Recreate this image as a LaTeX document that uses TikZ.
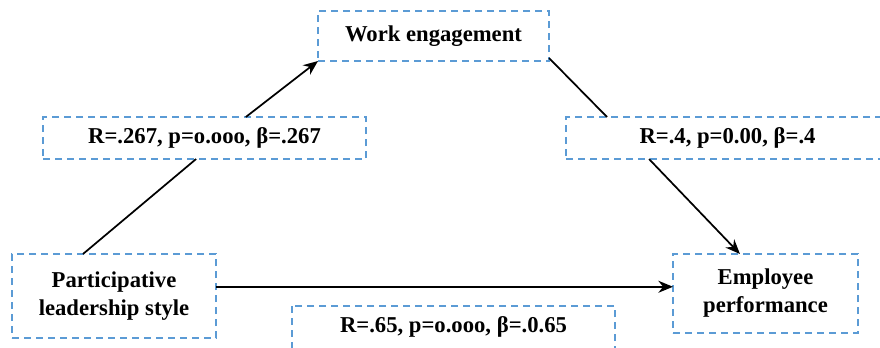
\documentclass[tikz,border=0pt]{standalone}
\usepackage{fontspec}
\setmainfont{Liberation Serif}
\usetikzlibrary{calc,arrows.meta}
\definecolor{boxblue}{RGB}{91,155,213}
\tikzset{
  dline/.style={draw=boxblue, line width=1.2pt, dash pattern=on 5.5pt off 3.5pt},
  dbox/.style={dline,
    inner sep=0pt, outer sep=0pt, align=center,
    font=\fontsize{17}{21}\selectfont\bfseries},
  conn/.style={line width=1.3pt, black},
  arr/.style={conn, -{Stealth[length=11pt,width=9pt]}}
}
\begin{document}
\begin{tikzpicture}[x=0.75pt,y=-0.75pt]
\useasboundingbox (0,0) rectangle (880,347);
\clip (0,0) rectangle (880,347);
\node[dbox, minimum width=173.25pt, minimum height=37.5pt] (WE) at (433.5,36) {Work engagement};
\node[dbox, minimum width=242.25pt, minimum height=31.5pt] (L1) at (204.5,138) {R=.267, p=o.ooo, β=.267};
\node[dbox, minimum width=242.25pt, minimum height=31.5pt] (L2) at (727.5,138) {R=.4, p=0.00, β=.4};
\node[dbox, draw=none, minimum width=242.25pt, minimum height=31.5pt] (L3) at (453.5,327) {R=.65, p=o.ooo, β=.0.65};
\draw[dline] (L3.north west) rectangle ($(L3.south east)+(0,12)$);
\node[dbox, minimum width=153pt, minimum height=63pt] (P) at (114,296) {Participative\\leadership style};
\node[dbox, minimum width=138.75pt, minimum height=59.25pt] (E) at (765.5,293.5) {Employee\\performance};
% P -> L1 -> WE
\draw[conn] ($(P.north west)!0.348!(P.north east)$) -- ($(L1.south west)!0.474!(L1.south east)$);
\draw[arr] ($(L1.north west)!0.628!(L1.north east)$) -- (WE.south west);
% WE -> L2 -> E
\draw[conn] ($(WE.south east)+(0,-3)$) -- ($(L2.north west)!0.127!(L2.north east)$);
\draw[arr] ($(L2.south west)!0.257!(L2.south east)$) -- ($(E.north west)!0.362!(E.north east)$);
% P -> E
\draw[arr] ($(P.north east)!0.39!(P.south east)$) coordinate (h) -- (E.west |- h);
\end{tikzpicture}
\end{document}
